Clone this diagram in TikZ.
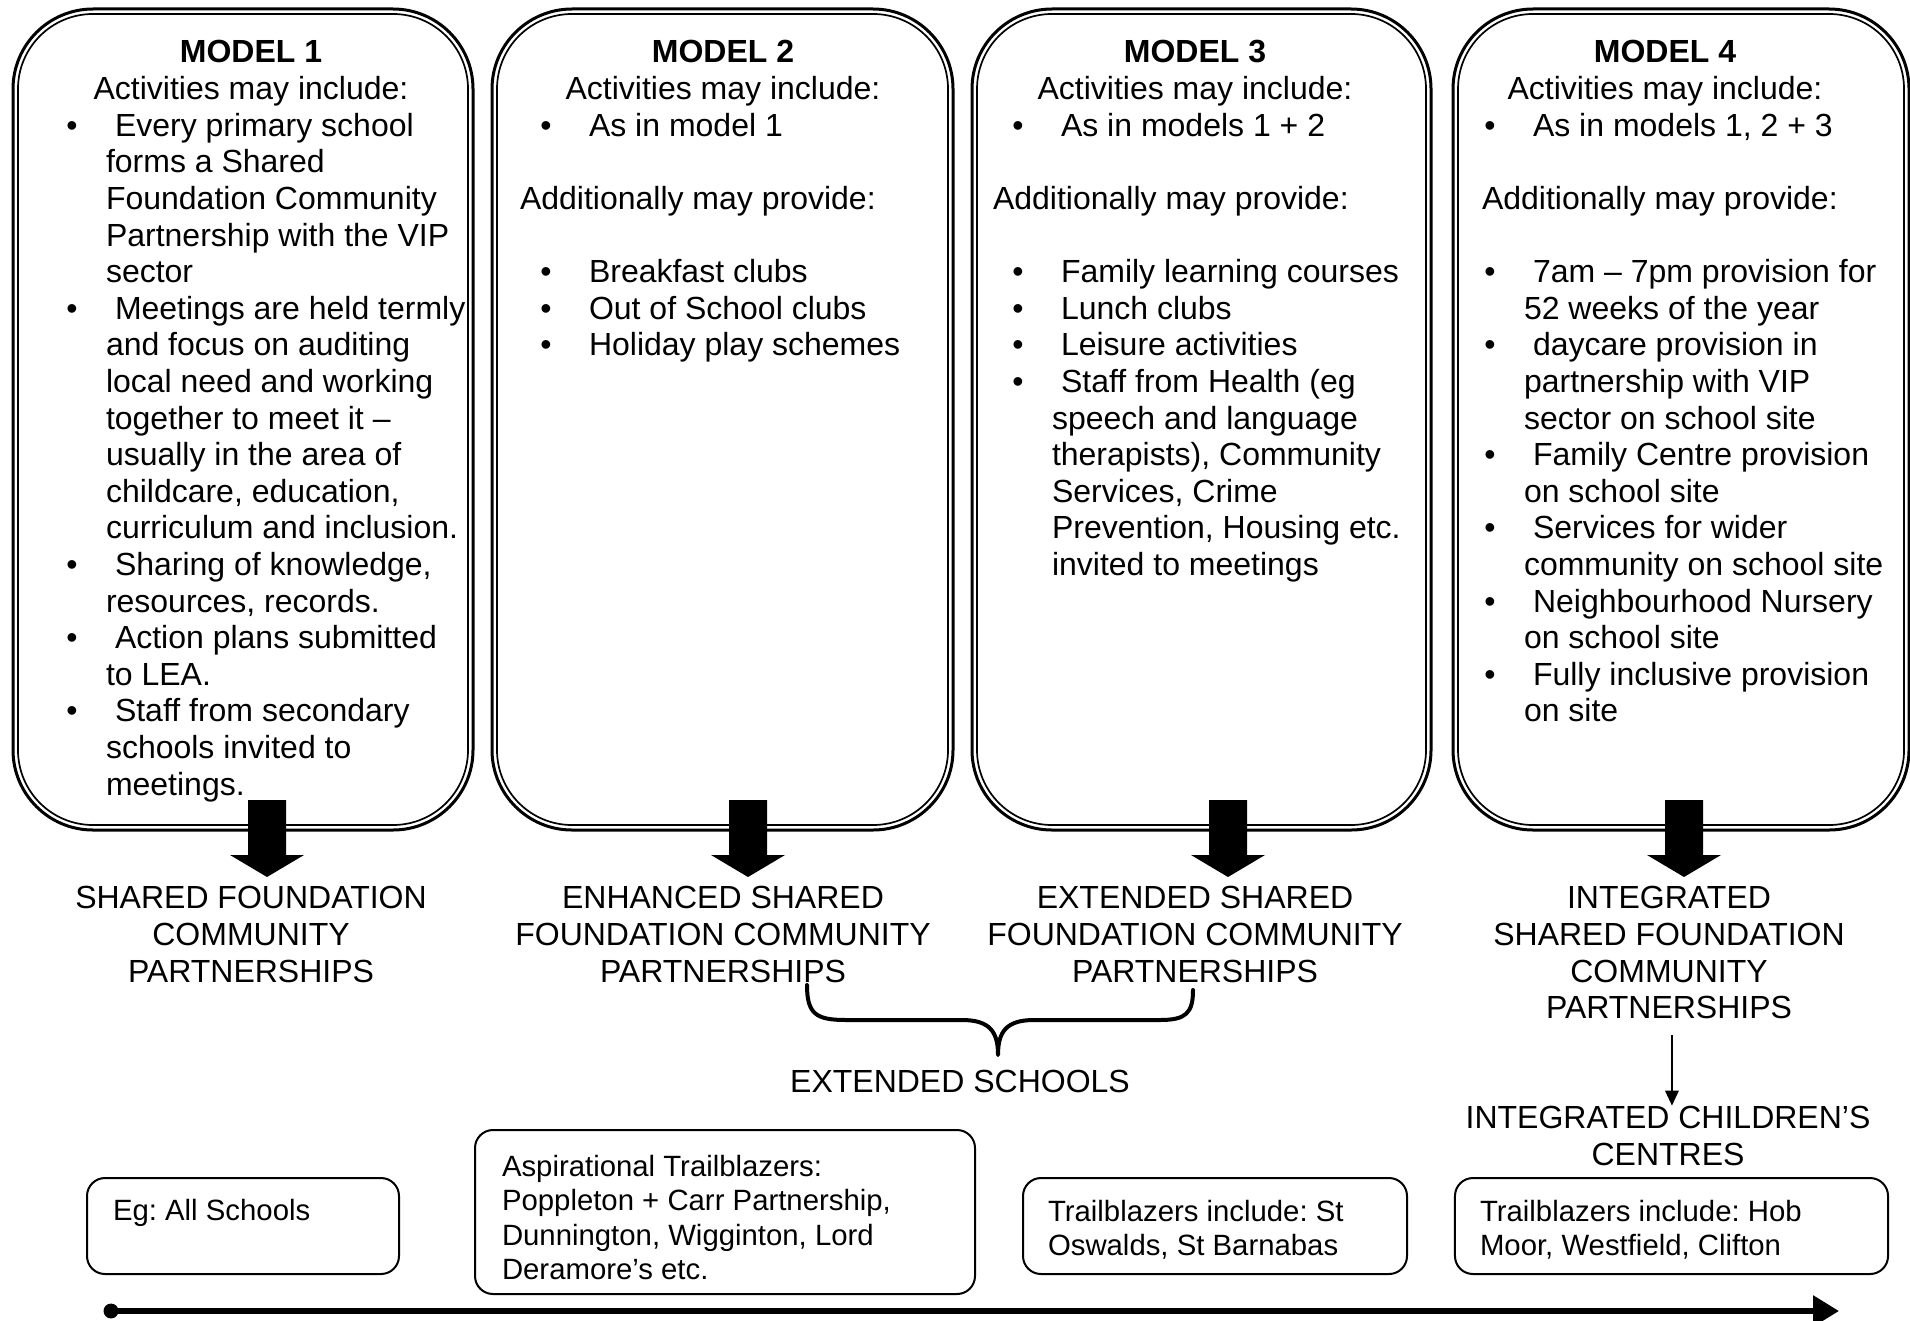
\documentclass[tikz,border=0pt]{standalone}
\usepackage{fontspec}
\setmainfont{Liberation Sans}
\usetikzlibrary{arrows.meta}
\frenchspacing
\newcommand\MyBu[4]{\node[ctxt] (#1b) at (#2,{63+36.6*#3}) {\textbullet};\node[txt] (#1) at ({#2+43},{63+36.6*#3}) {#4};}
\newcommand\MyCo[4]{\node[txt] (#1) at ({#2+34},{63+36.6*#3}) {#4};}
\newcommand\MyCe[4]{\node[ctxt] (#1) at (#2,{63+36.6*#3}) {#4};}
\newcommand\MyLe[4]{\node[txt] (#1) at (#2,{63+36.6*#3}) {#4};}
\newcommand\MyHd[3]{\node[head] (#1) at (#2,63) {#3};}
\newcommand\MyInner[1]{\draw[innerline] ([xshift=1.875pt,yshift=-1.875pt]#1.north west) rectangle ([xshift=-1.875pt,yshift=1.875pt]#1.south east);}
\newcommand\MyArrow[1]{\fill[blockarrow] (#1) ++(-19,0) -- ++(38,0) -- ++(0,55) -- ++(18,0) -- ++(-37,22) -- ++(-37,-22) -- ++(18,0) -- cycle;}
\begin{document}
\begin{tikzpicture}[x=0.375pt,y=-0.375pt,
  every node/.style={inner sep=0pt, outer sep=0pt},
  txt/.style={font=\fontsize{12}{13.7}\selectfont\frenchspacing, anchor=base west},
  ctxt/.style={font=\fontsize{12}{13.7}\selectfont\frenchspacing, anchor=base},
  head/.style={font=\fontsize{12}{13.7}\selectfont\bfseries, anchor=base},
  stxt/.style={font=\fontsize{11}{12.65}\selectfont\frenchspacing, anchor=base west},
  bigbox/.style={draw, line width=1.125pt, rounded corners=30pt, rectangle, anchor=north west},
  innerline/.style={line width=0.64pt, rounded corners=28.1pt},
  smallbox/.style={draw, line width=0.75pt, rounded corners=6.75pt, rectangle},
  blockarrow/.style={fill=black},
  thinarrow/.style={line width=0.75pt, -{Triangle[length=5.6pt,width=5pt]}},
  timeline/.style={line width=2.25pt, -{Triangle[length=9.75pt,width=11.25pt]}},
  bracepath/.style={line width=1.5pt, line cap=round, line join=round},
]
\fill[white] (0,0) rectangle (1910,1320);
\useasboundingbox (0,0) rectangle (1910,1320);

% big boxes
\node[bigbox, minimum width=172.5pt, minimum height=307.875pt] (B1) at (13,9) {};
\node[bigbox, minimum width=172.875pt, minimum height=307.875pt] (B2) at (492,9) {};
\node[bigbox, minimum width=172.125pt, minimum height=307.875pt] (B3) at (972,9) {};
\node[bigbox, minimum width=171pt, minimum height=307.875pt] (B4) at (1453,9) {};
\MyInner{B1}\MyInner{B2}\MyInner{B3}\MyInner{B4}

% box 1
\MyHd{h1}{251}{MODEL 1}
\MyCe{a1}{251}{1}{Activities may include:}
\MyBu{p1a}{72}{2}{Every primary school}
\MyCo{p1b}{72}{3}{forms a Shared}
\MyCo{p1c}{72}{4}{Foundation Community}
\MyCo{p1d}{72}{5}{Partnership with the VIP}
\MyCo{p1e}{72}{6}{sector}
\MyBu{p1f}{72}{7}{Meetings are held termly}
\MyCo{p1g}{72}{8}{and focus on auditing}
\MyCo{p1h}{72}{9}{local need and working}
\MyCo{p1i}{72}{10}{together to meet it –}
\MyCo{p1j}{72}{11}{usually in the area of}
\MyCo{p1k}{72}{12}{childcare, education,}
\MyCo{p1l}{72}{13}{curriculum and inclusion.}
\MyBu{p1m}{72}{14}{Sharing of knowledge,}
\MyCo{p1n}{72}{15}{resources, records.}
\MyBu{p1o}{72}{16}{Action plans submitted}
\MyCo{p1p}{72}{17}{to LEA.}
\MyBu{p1q}{72}{18}{Staff from secondary}
\MyCo{p1r}{72}{19}{schools invited to}
\MyCo{p1s}{72}{20}{meetings.}

% box 2
\MyHd{h2}{723}{MODEL 2}
\MyCe{a2}{723}{1}{Activities may include:}
\MyBu{p2a}{546}{2}{As in model 1}
\MyLe{p2b}{520}{4}{Additionally may provide:}
\MyBu{p2c}{546}{6}{Breakfast clubs}
\MyBu{p2d}{546}{7}{Out of School clubs}
\MyBu{p2e}{546}{8}{Holiday play schemes}

% box 3
\MyHd{h3}{1195}{MODEL 3}
\MyCe{a3}{1195}{1}{Activities may include:}
\MyBu{p3a}{1018}{2}{As in models 1 + 2}
\MyLe{p3b}{993}{4}{Additionally may provide:}
\MyBu{p3c}{1018}{6}{Family learning courses}
\MyBu{p3d}{1018}{7}{Lunch clubs}
\MyBu{p3e}{1018}{8}{Leisure activities}
\MyBu{p3f}{1018}{9}{Staff from Health (eg}
\MyCo{p3g}{1018}{10}{speech and language}
\MyCo{p3h}{1018}{11}{therapists), Community}
\MyCo{p3i}{1018}{12}{Services, Crime}
\MyCo{p3j}{1018}{13}{Prevention, Housing etc.}
\MyCo{p3k}{1018}{14}{invited to meetings}

% box 4
\MyHd{h4}{1665}{MODEL 4}
\MyCe{a4}{1665}{1}{Activities may include:}
\MyBu{p4a}{1490}{2}{As in models 1, 2 + 3}
\MyLe{p4b}{1482}{4}{Additionally may provide:}
\MyBu{p4c}{1490}{6}{7am – 7pm provision for}
\MyCo{p4d}{1490}{7}{52 weeks of the year}
\MyBu{p4e}{1490}{8}{daycare provision in}
\MyCo{p4f}{1490}{9}{partnership with VIP}
\MyCo{p4g}{1490}{10}{sector on school site}
\MyBu{p4h}{1490}{11}{Family Centre provision}
\MyCo{p4i}{1490}{12}{on school site}
\MyBu{p4j}{1490}{13}{Services for wider}
\MyCo{p4k}{1490}{14}{community on school site}
\MyBu{p4l}{1490}{15}{Neighbourhood Nursery}
\MyCo{p4m}{1490}{16}{on school site}
\MyBu{p4n}{1490}{17}{Fully inclusive provision}
\MyCo{p4o}{1490}{18}{on site}

% block arrows
\coordinate (ar1) at (267,800);
\coordinate (ar2) at (748,800);
\coordinate (ar3) at (1228,800);
\coordinate (ar4) at (1684,800);
\MyArrow{ar1}\MyArrow{ar2}\MyArrow{ar3}\MyArrow{ar4}

% labels
\node[ctxt] (l1a) at (251,908) {SHARED FOUNDATION};
\node[ctxt] (l1b) at (251,945) {COMMUNITY};
\node[ctxt] (l1c) at (251,982) {PARTNERSHIPS};
\node[ctxt] (l2a) at (723,908) {ENHANCED SHARED};
\node[ctxt] (l2b) at (723,945) {FOUNDATION COMMUNITY};
\node[ctxt] (l2c) at (723,982) {PARTNERSHIPS};
\node[ctxt] (l3a) at (1195,908) {EXTENDED SHARED};
\node[ctxt] (l3b) at (1195,945) {FOUNDATION COMMUNITY};
\node[ctxt] (l3c) at (1195,982) {PARTNERSHIPS};
\node[ctxt] (l4a) at (1669,908) {INTEGRATED};
\node[ctxt] (l4b) at (1669,945) {SHARED FOUNDATION};
\node[ctxt] (l4c) at (1669,982) {COMMUNITY};
\node[ctxt] (l4d) at (1669,1018) {PARTNERSHIPS};

% brace
\coordinate (brL) at (807,985);
\coordinate (brR) at (1193,990);
\coordinate (brM) at (998,1055);
\draw[bracepath] (brL) .. controls (807,1014) and (816,1020) .. (846,1020) -- (962,1020) .. controls (990,1020) and (998,1032) .. (brM) .. controls (998,1032) and (1006,1020) .. (1034,1020) -- (1160,1020) .. controls (1186,1020) and (1193,1013) .. (brR);
\node[ctxt] (es) at (960,1092) {EXTENDED SCHOOLS};

% integrated children's centres
\node[ctxt] (ic1) at (1668,1128) {INTEGRATED CHILDREN’S};
\node[ctxt] (ic2) at (1668,1165) {CENTRES};
\draw[thinarrow] ([xshift=1.1pt,yshift=-6.4pt]l4d.south) -- ([xshift=1.1pt]l4d.south |- ic1.north);

% bottom boxes
\node[smallbox, minimum width=117pt, minimum height=36pt] (ba) at (243,1226) {};
\node[smallbox, minimum width=187.5pt, minimum height=61.5pt] (bb) at (725,1212) {};
\node[smallbox, minimum width=144pt, minimum height=36pt] (bc) at (1215,1226) {};
\node[smallbox, minimum width=162.4pt, minimum height=36pt] (bd) at (1671.5,1226) {};
\node[stxt] (ta) at (113,1220) {Eg: All Schools};
\node[stxt] (tb1) at (502,1176) {Aspirational Trailblazers:};
\node[stxt] (tb2) at (502,1210.5) {Poppleton + Carr Partnership,};
\node[stxt] (tb3) at (502,1245) {Dunnington, Wigginton, Lord};
\node[stxt] (tb4) at (502,1279.5) {Deramore’s etc.};
\node[stxt] (tc1) at (1048,1221) {Trailblazers include: St};
\node[stxt] (tc2) at (1048,1255) {Oswalds, St Barnabas};
\node[stxt] (td1) at (1480,1221) {Trailblazers include: Hob};
\node[stxt] (td2) at (1480,1255) {Moor, Westfield, Clifton};

% timeline
\node[circle, fill=black, minimum size=5.6pt] (t0) at (111,1311) {};
\coordinate (t1) at (1839,1311);
\draw[timeline] (t0.center) -- (t1);
\end{tikzpicture}
\end{document}
